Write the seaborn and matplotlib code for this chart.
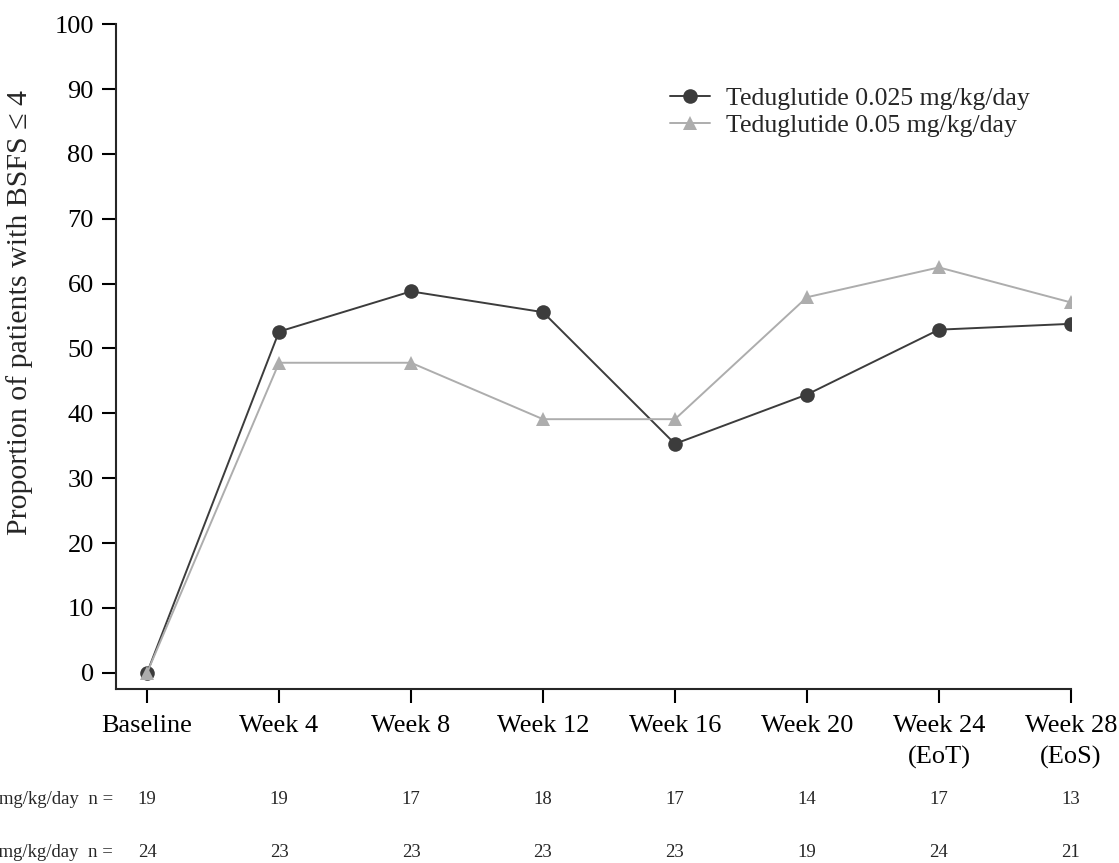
import numpy as np
import pandas as pd
import matplotlib
matplotlib.use('Agg')
import matplotlib.pyplot as plt
import matplotlib.transforms as mtransforms
import seaborn as sns

# ── Data ──────────────────────────────────────────────────────
visits = ['Baseline', 'Week 4', 'Week 8', 'Week 12', 'Week 16', 'Week 20',
          'Week 24\n(EoT)', 'Week 28\n(EoS)']
groups = ['Teduglutide 0.025 mg/kg/day', 'Teduglutide 0.05 mg/kg/day']
prop_025 = [0, 52.6, 58.8, 55.6, 35.3, 42.9, 52.9, 53.8]
prop_05  = [0, 47.8, 47.8, 39.1, 39.1, 57.9, 62.5, 57.1]
n_025 = [19, 19, 17, 18, 17, 14, 17, 13]
n_05  = [24, 23, 23, 23, 23, 19, 24, 21]

df = pd.DataFrame({
    'visit': visits * 2,
    'prop':  prop_025 + prop_05,
    'group': [groups[0]] * len(visits) + [groups[1]] * len(visits),
})

# ── Style ─────────────────────────────────────────────────────
sns.set_style('ticks')
plt.rcParams['font.family'] = ['Liberation Serif', 'DejaVu Serif']
plt.rcParams['axes.linewidth'] = 1.5

colors = {groups[0]: '#3c3c3c', groups[1]: '#adadad'}
markers = {groups[0]: 'o', groups[1]: '^'}

fig = plt.figure(figsize=(11.19, 8.63), dpi=100)
ax = fig.add_axes([0.1037, 0.2016, 0.957 - 0.1037, 0.972 - 0.2016])

sns.lineplot(data=df, x='visit', y='prop', hue='group', style='group',
             palette=colors, markers=markers, dashes=False, sort=False,
             markersize=10.5, markeredgewidth=0, linewidth=1.4, ax=ax)

ax.set_xlim(-0.235, len(visits) - 1)
ax.set_ylim(-2.5, 100)
ax.set_yticks(np.arange(0, 101, 10))
ax.tick_params(axis='both', length=10, width=1.5, labelsize=19, pad=6, colors='black')
ax.tick_params(axis='x', pad=9)
for lbl in ax.get_xticklabels():
    lbl.set_linespacing(1.5)
ax.set_xlabel('')
ax.set_ylabel('Proportion of patients with BSFS ≤ 4', fontsize=21.5)
ax.yaxis.set_label_coords(-0.087, 0.567)
sns.despine(ax=ax)

ax.legend(loc='upper left', bbox_to_anchor=(0.567, 0.925), frameon=False,
          fontsize=18.5, handlelength=1.55, handletextpad=0.6, labelspacing=0.15,
          borderpad=0)

# n = rows under the axis (labels run off the left edge, as in the source)
trans = mtransforms.blended_transform_factory(ax.transData, fig.transFigure)
for y, lab, ns in [(0.074, groups[0], n_025), (0.0127, groups[1], n_05)]:
    ax.text(-0.22, y, lab + '  n = ', transform=trans, ha='right', va='center',
            fontsize=13.5, clip_on=False)
    for i, n in enumerate(ns):
        ax.text(i, y, str(n), transform=trans, ha='center', va='center',
                fontsize=13.5, clip_on=False)

plt.savefig('out.png', dpi=100)
plt.close()
